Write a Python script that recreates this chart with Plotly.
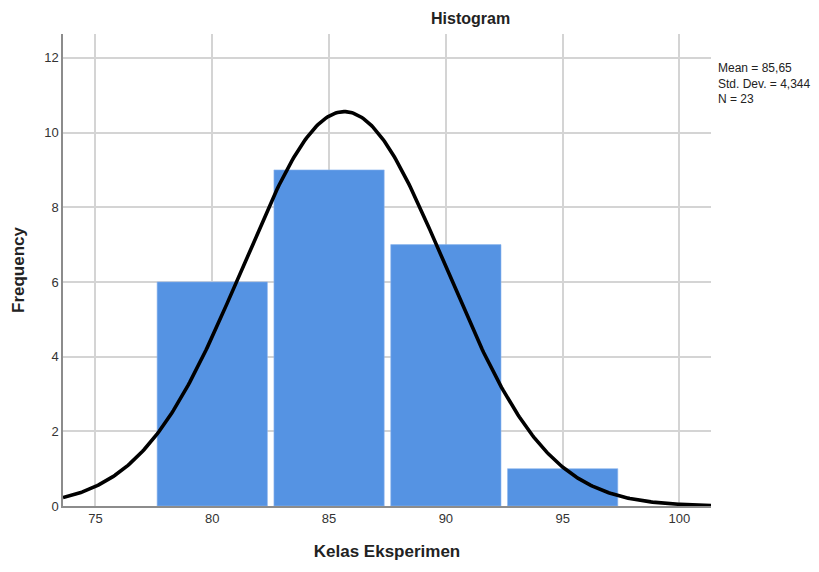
import numpy as np
import plotly.graph_objects as go

# Data
bin_centers = [80, 85, 90, 95]
frequencies = [6, 9, 7, 1]
bin_width = 5
mean_val = 85.65
std_dev = 4.344
n_obs = 23
x_ticks = [75, 80, 85, 90, 95, 100]
y_ticks = [0, 2, 4, 6, 8, 10, 12]

x_range = [73.61, 101.35]
y_range = [0, 12.64]

# Normal curve fitted to the stated statistics
xs = np.linspace(x_range[0], x_range[1], 400)
ys = n_obs * bin_width / (std_dev * np.sqrt(2 * np.pi)) * np.exp(-0.5 * ((xs - mean_val) / std_dev) ** 2)

fig = go.Figure()
fig.add_trace(go.Bar(
    x=bin_centers, y=frequencies, width=4.72,
    marker=dict(color="#5593E3", line=dict(color="#8DB6EE", width=0.6)),
    hoverinfo="skip"
))
fig.add_trace(go.Scatter(
    x=xs, y=ys, mode="lines",
    line=dict(color="black", width=3.6),
    hoverinfo="skip"
))

# page body has an 8px margin, so the figure is offset by 8px
font_family = "Liberation Sans, Arial, sans-serif"
fig.update_layout(
    width=811, height=564,
    margin=dict(l=54.5, r=107.5, t=26, b=66),
    plot_bgcolor="white", paper_bgcolor="white",
    showlegend=False,
    font=dict(family=font_family, color="#333333", size=12),
    xaxis=dict(
        range=x_range, tickvals=x_ticks, ticktext=[str(t) for t in x_ticks],
        showgrid=True, gridcolor="#D4D4D4", gridwidth=1.5,
        showline=True, linecolor="#8C8C8C", linewidth=1.5,
        ticks="", zeroline=False, tickfont=dict(size=13, color="#333333"),
        automargin=False,
        title=dict(text="<b>Kelas Eksperimen</b>", font=dict(size=17, color="#222222"), standoff=20),
    ),
    yaxis=dict(
        range=y_range, tickvals=y_ticks, ticktext=[str(t) for t in y_ticks],
        showgrid=True, gridcolor="#D4D4D4", gridwidth=1.5,
        showline=True, linecolor="#8C8C8C", linewidth=1.5,
        ticks="", zeroline=False, tickfont=dict(size=13, color="#333333"),
        automargin=False,
        title=dict(text="<b>Frequency</b>", font=dict(size=17, color="#222222"), standoff=15),
    ),
    annotations=[
        dict(text="<b>Histogram</b>", xref="paper", yref="paper",
             x=(471 - 62.5) / 649, y=1.0, yshift=16, xanchor="center", yanchor="middle",
             showarrow=False, font=dict(size=16, color="#222222")),
        dict(text="Mean = 85,65<br>Std. Dev. = 4,344<br>N = 23", xref="paper", yref="paper",
             x=(717 - 62.5) / 649, y=(506 - 59) / 472, xanchor="left", yanchor="top",
             align="left", showarrow=False, font=dict(size=12, color="#222222")),
    ],
)

fig.write_html("out.html")
